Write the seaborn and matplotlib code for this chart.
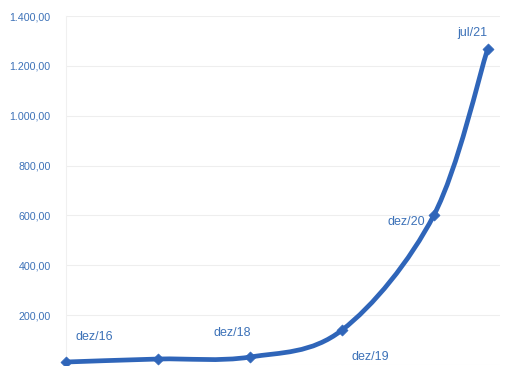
import matplotlib
matplotlib.use("Agg")
import matplotlib.pyplot as plt
import seaborn as sns
import pandas as pd
from matplotlib.path import Path
from matplotlib.patches import PathPatch
from matplotlib.ticker import FuncFormatter

categories = ["dez/16", "dez/17", "dez/18", "dez/19", "dez/20", "jul/21"]
months = [0, 12, 24, 36, 48, 55]
values = [12, 24, 32, 140, 602, 1268]
label_offsets = [(28, 25), (0, -14), (-18, 24), (28, -27), (-28, -7), (-15, 16)]
yticks = [0, 200, 400, 600, 800, 1000, 1200, 1400]

sns.set_theme(style="white")
plt.rcParams['font.family'] = ['Liberation Sans', 'DejaVu Sans']

df = pd.DataFrame({"m": months, "v": values, "cat": categories})

fig = plt.figure(figsize=(5.26, 3.66), dpi=100)
ax = fig.add_axes([66/526, 1/366, (500-66)/526, (365-16)/366])

blue = "#2f65b9"
txt = "#3d72b8"

# smooth (Excel-like) curve through the data points using cubic Bezier segments
xs, ys = df["m"].tolist(), df["v"].tolist()
n = len(xs)
verts = [(xs[0], ys[0])]
codes = [Path.MOVETO]
for i in range(n - 1):
    p0 = (xs[max(i-1, 0)], ys[max(i-1, 0)])
    p1 = (xs[i], ys[i])
    p2 = (xs[i+1], ys[i+1])
    p3 = (xs[min(i+2, n-1)], ys[min(i+2, n-1)])
    c1 = (p1[0] + (p2[0]-p0[0])/6, p1[1] + (p2[1]-p0[1])/6)
    c2 = (p2[0] - (p3[0]-p1[0])/6, p2[1] - (p3[1]-p1[1])/6)
    verts += [c1, c2, p2]
    codes += [Path.CURVE4]*3
ax.add_patch(PathPatch(Path(verts, codes), facecolor="none", edgecolor=blue,
                       lw=3.4, capstyle="round", joinstyle="round", zorder=3))

sns.scatterplot(data=df, x="m", y="v", marker="D", s=32, color=blue,
                edgecolor=blue, ax=ax, zorder=4, clip_on=False)

for m, v, c, off in zip(months, values, categories, label_offsets):
    ax.annotate(c, (m, v), xytext=off, textcoords="offset pixels",
                ha="center", va="center", fontsize=9, color=txt,
                annotation_clip=False)

ax.set_xlim(0, (500-66)/(92/12))
ax.set_ylim(0, 1400)
ax.set_yticks(yticks)

def fmt(v, p):
    if v == 0:
        return "-"
    s = f"{v:,.2f}"
    return s.replace(",", "X").replace(".", ",").replace("X", ".")
ax.yaxis.set_major_formatter(FuncFormatter(fmt))
ax.tick_params(axis="y", labelsize=7.7, labelcolor=txt, length=0, pad=11)
ax.set_xticks([])
ax.set_xlabel("")
ax.set_ylabel("")
ax.grid(axis="y", color="#eeeeee", lw=0.8)
for s in ["top", "right", "bottom"]:
    ax.spines[s].set_visible(False)
ax.spines["left"].set_color("#f0f0f0")
ax.spines["left"].set_linewidth(0.8)

fig.savefig("out.png", dpi=100)
